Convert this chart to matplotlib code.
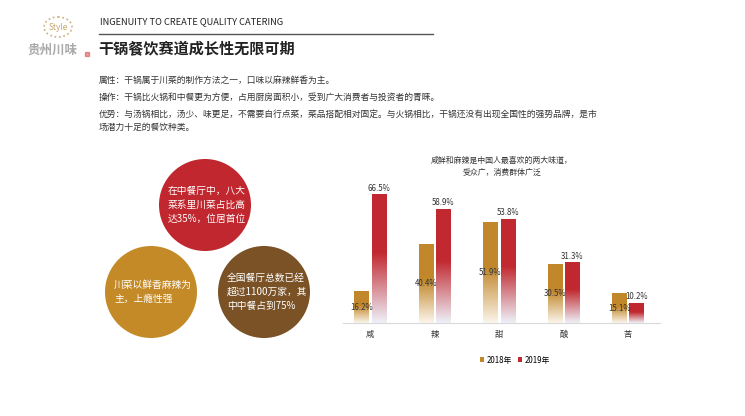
import numpy as np
import matplotlib.pyplot as plt
from matplotlib.patches import Circle, Ellipse
from matplotlib.colors import to_rgb

plt.rcParams['font.family'] = ['Noto Sans CJK SC', 'DejaVu Sans']

# données du graphique
categories = ["咸", "辣", "甜", "酸", "苦"]
val_2018 = [16.2, 40.4, 51.9, 30.5, 15.1]
val_2019 = [66.5, 58.9, 53.8, 31.3, 10.2]
series_names = ["2018年", "2019年"]

header = "INGENUITY TO CREATE QUALITY CATERING"
title = "干锅餐饮赛道成长性无限可期"
body_lines = [
    "属性：干锅属于川菜的制作方法之一，口味以麻辣鲜香为主。",
    "操作：干锅比火锅和中餐更为方便，占用厨房面积小，受到广大消费者与投资者的青睐。",
    "优势：与汤锅相比，汤少、味更足，不需要自行点菜，菜品搭配相对固定。与火锅相比，干锅还没有出现全国性的强势品牌，是市",
    "场潜力十足的餐饮种类。",
]
chart_title = "咸鲜和麻辣是中国人最喜欢的两大味道，\n受众广，消费群体广泛"
circle_texts = [
    "在中餐厅中，八大\n菜系里川菜占比高\n达35%，位居首位",
    "川菜以鲜香麻辣为\n主，上瘾性强",
    "全国餐厅总数已经\n超过1100万家，其\n中中餐占到75%",
]

RED = "#C0272E"
GOLD = "#C38A27"
BROWN = "#7A5226"
BAR_GOLD = "#C1872B"
BAR_RED = "#C1282F"

fig = plt.figure(figsize=(7.45, 4.16), dpi=100)

# calque en pixels pour le texte et les cercles
bg = fig.add_axes([0, 0, 1, 1])
bg.set_xlim(0, 745)
bg.set_ylim(416, 0)
bg.axis("off")

# logo (approximatif, l'original est flou)
bg.add_patch(Ellipse((58, 27), 28, 20, fill=False, ec="#CFAE78", lw=1.2, ls=":"))
bg.text(58, 27, "Style", ha="center", va="center", fontsize=6, color="#C9A46A",
        style="italic")
bg.text(52, 50, "贵州川味", ha="center", va="center", fontsize=9, color="#444444",
        alpha=0.45, fontweight="bold")
bg.add_patch(plt.Rectangle((85, 52), 4, 4, color="#D23A3A", alpha=0.5))

bg.text(100, 22, header, fontsize=6.7, color="#222222", va="center")
bg.plot([99, 433], [34, 34], color="#555555", lw=1)
bg.text(98, 49, title, fontsize=10.9, fontweight="bold", color="#222222", va="center")

ys = [80, 97, 115, 127]
for y, line in zip(ys, body_lines):
    bg.text(99, y, line, fontsize=6.3, color="#333333", va="center")

# cercles
centres = [(205, 205), (151, 292), (264, 292)]
couleurs = [RED, GOLD, BROWN]
for (cx, cy), c, t in zip(centres, couleurs, circle_texts):
    bg.add_patch(Circle((cx, cy), 46, color=c, ec="none"))
    bg.text(cx - 37, cy, t, fontsize=7, color="white", va="center", ha="left",
            linespacing=1.45)

bg.text(502, 166, chart_title, fontsize=5.7, color="#333333", ha="center",
        va="center", linespacing=1.4)


def degrade(couleur, bas):
    c1 = np.array(to_rgb(couleur))
    c0 = np.array(to_rgb(bas))
    n = 100
    t = np.linspace(0, 1, n)  # 0 = haut, 1 = bas
    f = np.clip((t - 0.45) / 0.55, 0, 1)[:, None]
    img = c1 * (1 - f) + c0 * f
    return img[:, None, :]


# graphique
ax = fig.add_axes([343 / 745, 1 - 323 / 416, (660 - 343) / 745, (323 - 180) / 416])
x = np.arange(len(categories))
w = 0.22
b1 = ax.bar(x - 0.135, val_2018, w, color=BAR_GOLD, label=series_names[0], zorder=1)
b2 = ax.bar(x + 0.135, val_2019, w, color=BAR_RED, label=series_names[1], zorder=1)

for bars, col, bas in [(b1, BAR_GOLD, "#FBF5EA"), (b2, BAR_RED, "#EEF0F8")]:
    img = degrade(col, bas)
    for r in bars:
        x0, h, bw = r.get_x(), r.get_height(), r.get_width()
        ax.imshow(img, extent=[x0, x0 + bw, 0, h], aspect="auto", zorder=2)

for r, v in zip(b1, val_2018):
    ax.text(r.get_x() + r.get_width() / 2, v / 2, f"{v}%", ha="center",
            va="center", fontsize=5.7, color="#333333", zorder=3)
for r, v in zip(b2, val_2019):
    ax.text(r.get_x() + r.get_width() / 2, v + 1, f"{v}%", ha="center",
            va="bottom", fontsize=5.7, color="#333333", zorder=3)

ax.set_xlim(-0.42, 4.5)
ax.set_ylim(0, 74)
ax.set_xticks(x)
ax.set_xticklabels(categories, fontsize=6, color="#333333")
ax.tick_params(axis="x", length=0, pad=5)
ax.set_yticks([])
for s in ["top", "right", "left"]:
    ax.spines[s].set_visible(False)
ax.spines["bottom"].set_color("#D9D9D9")
ax.patch.set_alpha(0)

leg = fig.legend(handles=[b1, b2], labels=series_names, loc="center",
                 bbox_to_anchor=(515 / 745, 1 - 360 / 416), ncol=2, frameon=False,
                 fontsize=5.7, handlelength=0.5, handleheight=0.5,
                 handletextpad=0.3, columnspacing=0.8)

fig.savefig("out.png", dpi=100)
